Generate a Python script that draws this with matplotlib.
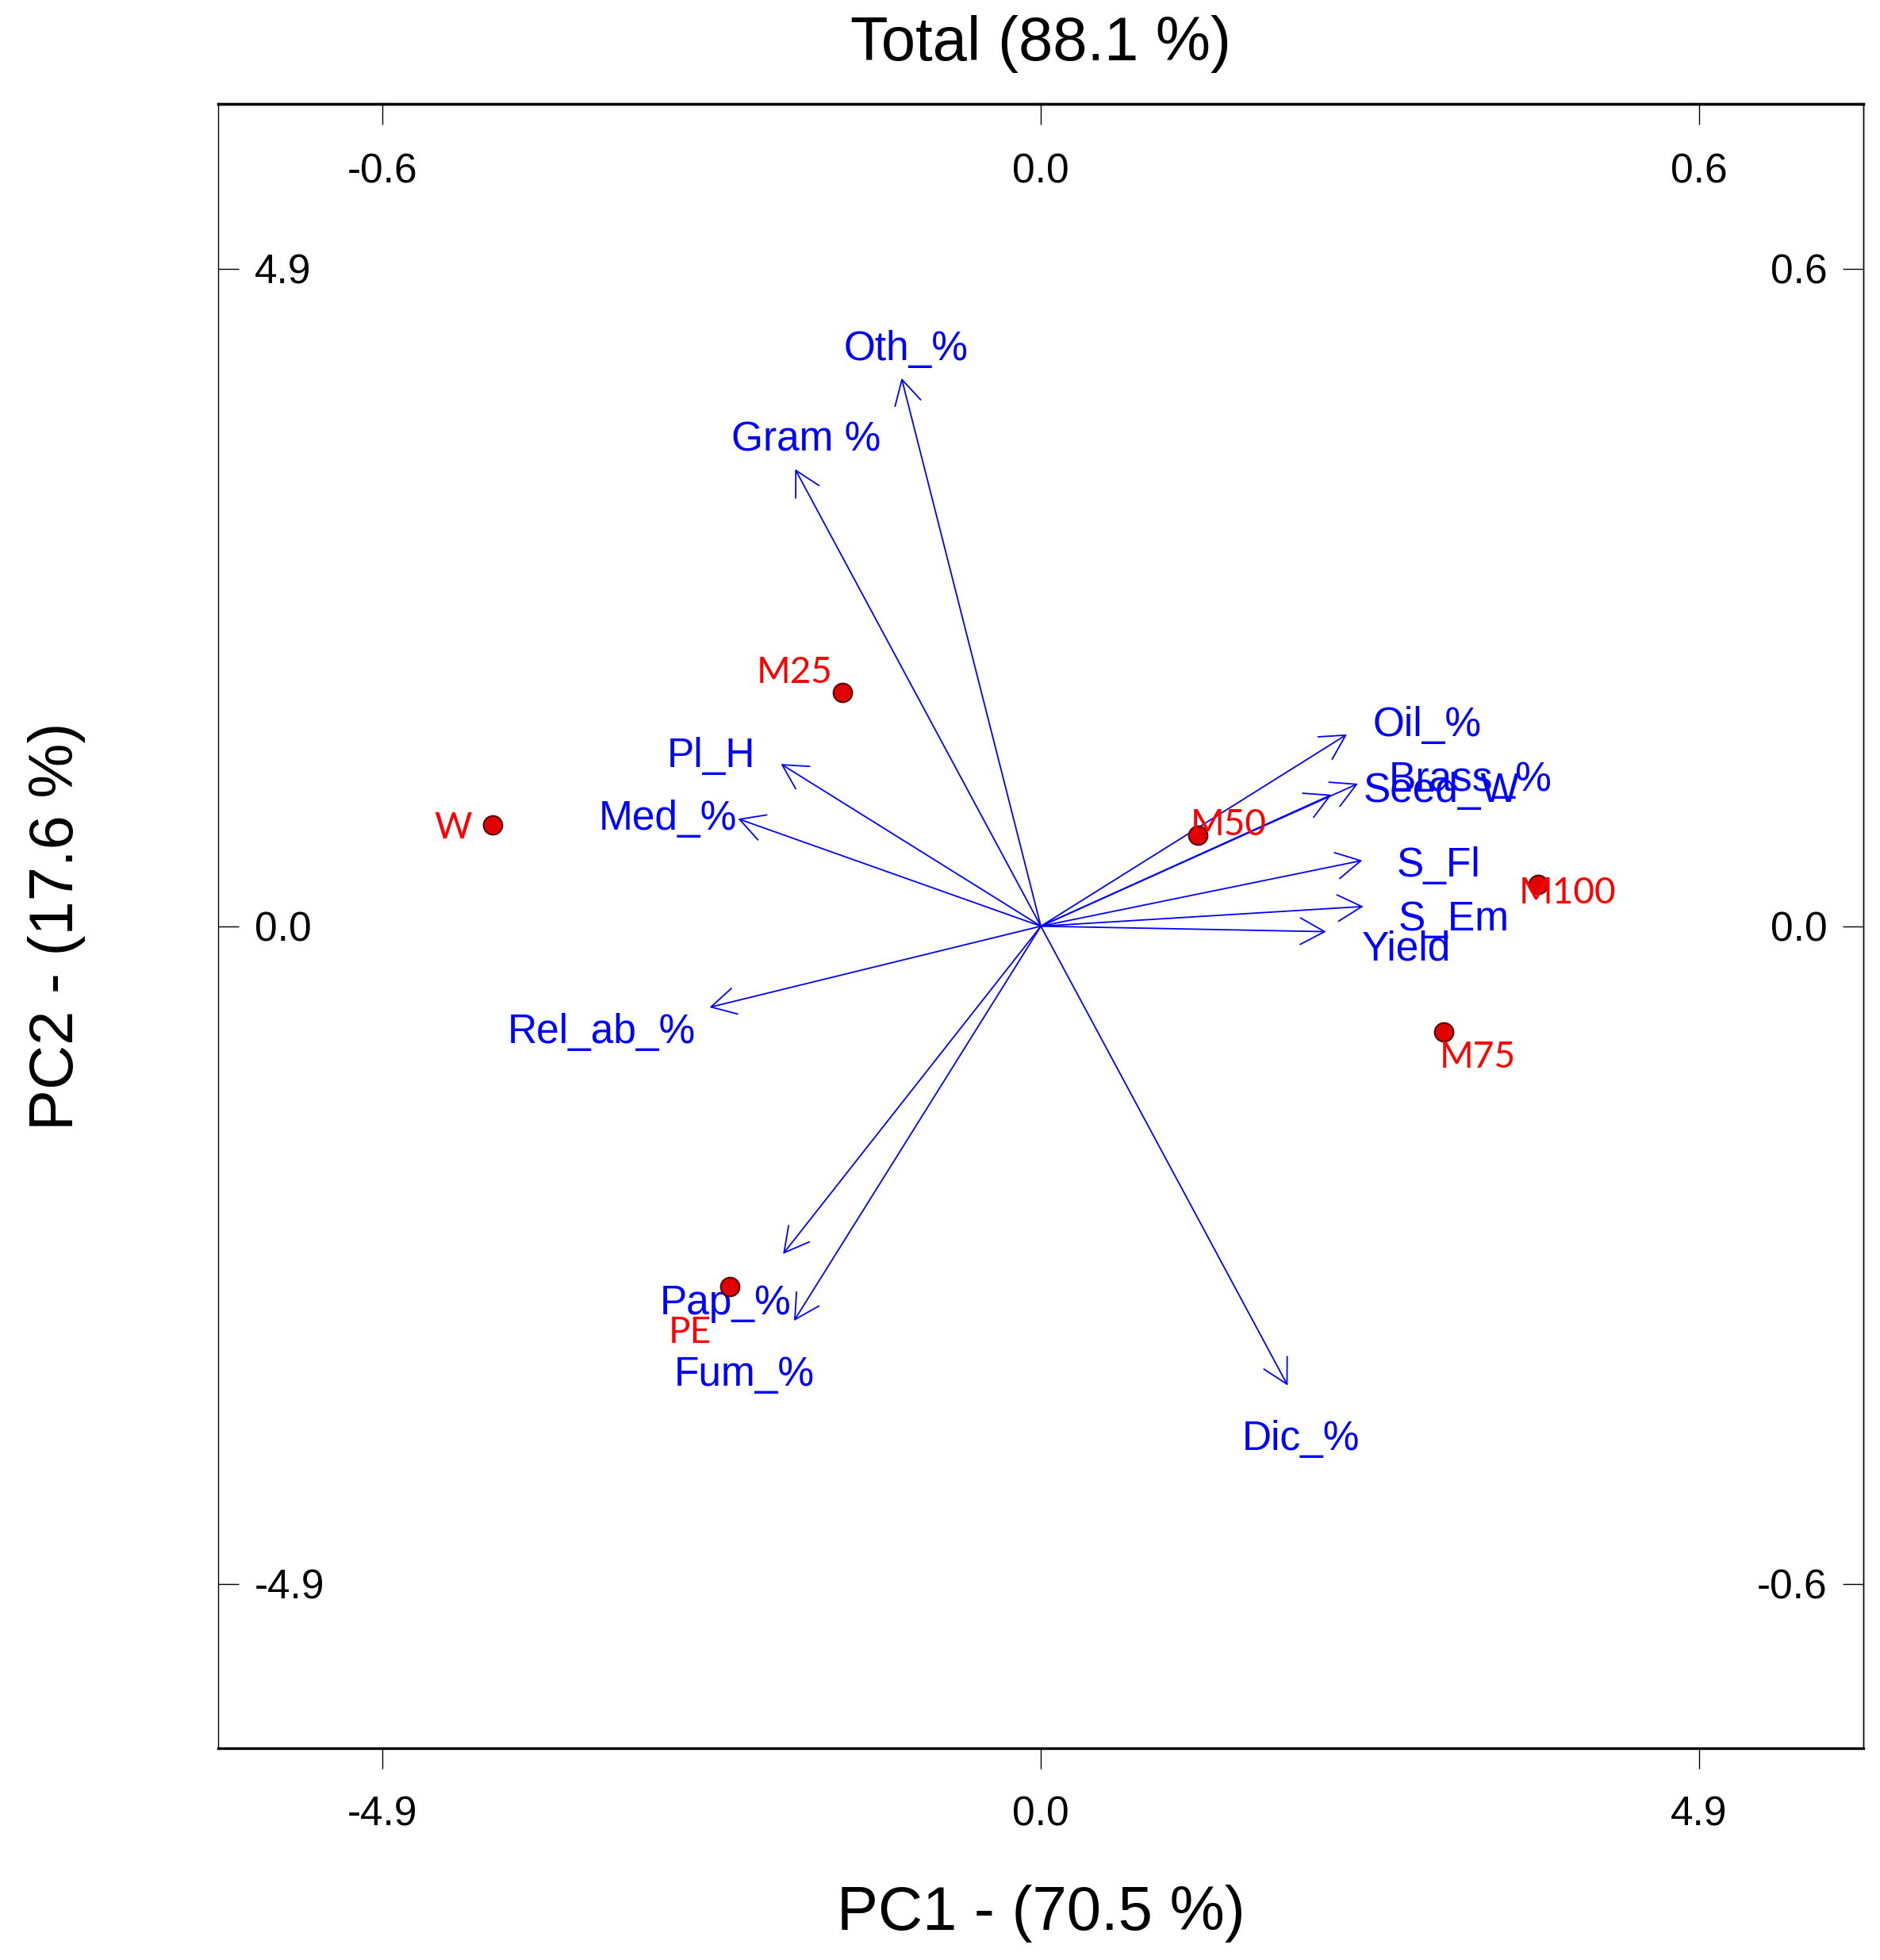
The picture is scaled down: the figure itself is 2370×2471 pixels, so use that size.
import matplotlib
matplotlib.use("Agg")
import matplotlib.pyplot as plt


# sample scores (PC1, PC2)
samples = ["W", "M25", "M50", "M100", "M75", "PE"]
score_pc1 = [-4.08, -1.475, 1.167, 3.70, 3.00, -2.316]
score_pc2 = [0.755, 1.743, 0.680, 0.31, -0.79, -2.684]

# variable loadings (PC1, PC2), on the top / right scale
variables = ["Oth_%", "Gram %", "Pl_H", "Med_%", "Rel_ab_%", "Pap_%", "Fum_%",
             "Dic_%", "Oil_%", "Brass_%", "Seed_W", "S_Fl", "S_Em", "Yield"]
load_pc1 = [-0.127, -0.224, -0.237, -0.276, -0.302, -0.235, -0.225,
            0.225, 0.279, 0.289, 0.265, 0.293, 0.294, 0.260]
load_pc2 = [0.500, 0.417, 0.148, 0.098, -0.074, -0.299, -0.360,
            -0.419, 0.175, 0.130, 0.120, 0.060, 0.018, -0.005]

score_ticks = [-4.9, 0.0, 4.9]
load_ticks = [-0.6, 0.0, 0.6]

title = "Total (88.1 %)"
xlabel = "PC1 - (70.5 %)"
ylabel = "PC2 - (17.6 %)"

# label offsets in points (layout only)
var_offsets = [(4, 26), (10, 26), (-63, 7), (-64, 0), (-98, -23), (-52, -45),
               (-45, -49), (12, -49), (73, 8), (102, 3), (100, 3), (69, -5),
               (82, -12), (73, -16)]
sample_offsets = [(-36, -3), (-44, 18), (28, 9), (27, -8), (31, -23), (-36, -42)]

SCALE = score_ticks[-1] / load_ticks[-1]
LIM = 6.125

plt.rcParams.update({
    "font.family": ["Liberation Sans", "DejaVu Sans"],
    "font.size": 37,
})

fig = plt.figure(figsize=(23.7, 24.71), dpi=100)
fig.patch.set_facecolor("white")
ax_rect = [0.116, 0.108, 0.8753, 0.8389]
ax = fig.add_axes(ax_rect)
ax.set_xlim(-LIM, LIM)
ax.set_ylim(-LIM, LIM)

# loading vectors
for name, lx, ly, off in zip(variables, load_pc1, load_pc2, var_offsets):
    tip = (lx * SCALE, ly * SCALE)
    ax.annotate(
        "", xy=tip, xytext=(0, 0),
        arrowprops=dict(arrowstyle="->,head_length=1.1,head_width=0.6",
                        color="#0000ff", lw=1.3, shrinkA=0, shrinkB=0,
                        mutation_scale=20),
    )
    ax.annotate(name, xy=tip, xytext=off, textcoords="offset points",
                ha="center", va="center", color="#0000ff", fontsize=37)

# sample points
ax.scatter(score_pc1, score_pc2, s=290, color="#e00000",
           edgecolors="#5a0000", linewidths=1.5, zorder=4)
for name, x, y, off in zip(samples, score_pc1, score_pc2, sample_offsets):
    ax.annotate(name, xy=(x, y), xytext=off, textcoords="offset points",
                ha="center", va="center", color="#ff0000", fontsize=33,
                family=["Lato", "DejaVu Sans"], zorder=5)

# bottom / left axis (scores)
ax.set_xticks(score_ticks)
ax.set_xticklabels([f"{t:.1f}" for t in score_ticks])
ax.set_yticks(score_ticks)
ax.set_yticklabels([f"{t:.1f}" for t in score_ticks])
ax.tick_params(axis="x", direction="out", length=18.5, width=1.0, pad=24)
ax.tick_params(axis="y", direction="in", length=18.5, width=1.0, pad=-33)
for lab in ax.get_yticklabels():
    lab.set_horizontalalignment("left")

# top / right axis (loadings)
top = ax.secondary_xaxis("top", functions=(lambda v: v / SCALE, lambda v: v * SCALE))
top.set_xticks(load_ticks)
top.set_xticklabels([f"{t:.1f}" for t in load_ticks])
top.tick_params(direction="in", length=18.5, width=1.0, pad=-44)
for lab in top.get_xticklabels():
    lab.set_verticalalignment("top")

right = ax.secondary_yaxis("right", functions=(lambda v: v / SCALE, lambda v: v * SCALE))
right.set_yticks(load_ticks)
right.set_yticklabels([f"{t:.1f}" for t in load_ticks])
right.tick_params(direction="in", length=18.5, width=1.0, pad=-33)
for lab in right.get_yticklabels():
    lab.set_horizontalalignment("right")

for side in ["top", "bottom"]:
    ax.spines[side].set_linewidth(2.4)
for side in ["left", "right"]:
    ax.spines[side].set_linewidth(1.0)
top.spines["top"].set_linewidth(2.4)
right.spines["right"].set_linewidth(1.0)

# titles centred on the plotting box
cx = ax_rect[0] + ax_rect[2] / 2
cy = ax_rect[1] + ax_rect[3] / 2
fig.text(cx, 0.9776, title, ha="center", va="center", fontsize=56)
fig.text(cx, 0.0237, xlabel, ha="center", va="center", fontsize=56)
fig.text(0.03, cy, ylabel, ha="center", va="center", rotation=90, fontsize=56)

fig.savefig("out.png", dpi=100, facecolor="white")
